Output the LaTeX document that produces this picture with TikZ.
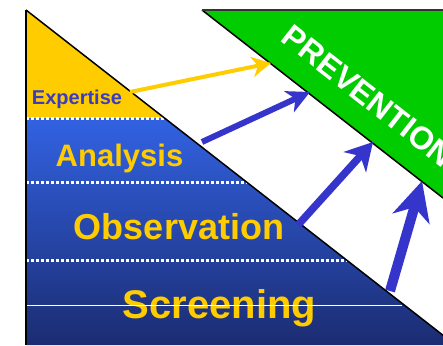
\documentclass[tikz,border=0pt]{standalone}
\usepackage{fontspec}
\setmainfont{Liberation Sans}
\usetikzlibrary{arrows.meta}

\definecolor{gold}{HTML}{FFCC00}
\definecolor{ink}{HTML}{3535CC}
\definecolor{leaf}{HTML}{00CC00}
\definecolor{skyblue}{HTML}{3262E2}
\definecolor{navy}{HTML}{1B2C72}
\definecolor{expblue}{HTML}{3B3BC4}

\tikzset{
  layer/.style={font=\bfseries, text=gold, inner sep=0pt, anchor=base},
  push/.style args={#1/#2/#3}{draw=ink, line width=#1,
    -{Stealth[length=#2, width=#3, inset=0.3*#2]}}
}

\begin{document}
\begin{tikzpicture}[x=1pt, y=-1pt]

	\useasboundingbox (0, 0) rectangle (443, 345);
	\clip (0, 0) rectangle (443, 345);

	% Left wedge: expertise on top, blue layers below
	
	\def\m{0.78}		% Slope of both diagonals
	
	\coordinate (apex) at (26, 10);
	\coordinate (foot) at (26, 345);
	\coordinate (edge) at (443, {10 + \m*417});
	
	\fill [gold] (apex) -- ({26 + 108/\m}, 118) -- (26, 118) -- cycle;
	\shade [top color = skyblue, bottom color = navy]
		(26, 118) -- ({26 + 108/\m}, 118) -- (edge) -- (443, 345) -- (foot) -- cycle;
	
	\foreach \y in {118, 182, 260}
		{
		\draw [white, line width = 3pt, dash pattern = on 3pt off 2pt]
			(26, \y) -- ({26 + (\y - 10)/\m}, \y);
		}
		
	\node (expertise) [layer, text = expblue, font = \bfseries\fontsize{20}{20}\selectfont] at (77, 104) {Expertise};
	\node (analysis) [layer, font = \bfseries\fontsize{31}{31}\selectfont] at (119.5, 166) {Analysis};
	\node (observation) [layer, font = \bfseries\fontsize{36}{36}\selectfont] at (179, 239) {Observation};
	\node (screening) [layer, font = \bfseries\fontsize{40}{40}\selectfont] at (219.5, 318) {Screening};
	
	\draw [white, line width = 1pt] (26, 305) -- (402, 305);
	
	\draw [line width = 2pt] (foot) -- (apex);
	\draw [line width = 1.5pt] (apex) -- (edge);
	
	% Prevention wedge
	
	\coordinate (crest) at (202, 10);
	\coordinate (corner) at (443, 10);
	\coordinate (brink) at (443, {10 + \m*241});
	
	\fill [leaf] (crest) -- (corner) -- (brink) -- cycle;
	\draw [line width = 1.5pt] (brink) -- (crest);
	\draw [line width = 2pt, black!80] (crest) -- (corner);
	
	\node (prevention) [white, rotate = -38, font = \bfseries\fontsize{32}{32}\selectfont]
		at (368, 96) {PREVENTION};
	
	% Arrows from the layers up to prevention
	
	\coordinate (e0) at (130, 92);		\coordinate (p0) at (271, 63);
	\coordinate (e1) at (202, 142);		\coordinate (p1) at (310, 92);
	\coordinate (e2) at (298, 225);		\coordinate (p2) at (373, 142);
	\coordinate (e3) at (390, 291);		\coordinate (p3) at (422, 181);
	
	\draw [push = 4pt/19pt/20pt, draw = gold] (e0) -- (p0);
	\draw [push = 6pt/23pt/23pt] (e1) -- (p1);
	\draw [push = 7.5pt/27pt/30pt] (e2) -- (p2);
	\draw [push = 10pt/39pt/38pt] (e3) -- (p3);

\end{tikzpicture}
\end{document}
